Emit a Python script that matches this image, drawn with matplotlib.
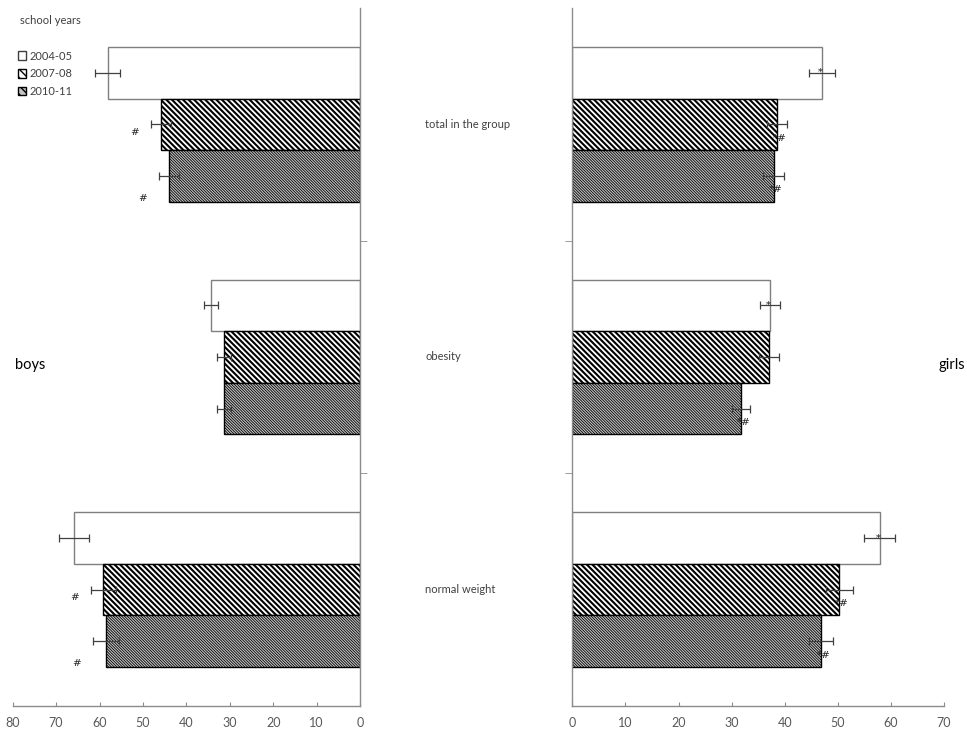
import matplotlib
matplotlib.use("Agg")
import matplotlib.pyplot as plt
import matplotlib.transforms as mtransforms
from matplotlib.patches import Patch
import numpy as np

# ---------------- data ----------------
categories = ["total in the group", "obesity", "normal weight"]   # top -> bottom
series = ["2004-05", "2007-08", "2010-11"]

boys_2004 = [58.1, 34.3, 65.9]
boys_2007 = [45.9, 31.3, 59.1]
boys_2010 = [43.9, 31.3, 58.5]
boys_err_2004 = [2.9, 1.7, 3.4]
boys_err_2007 = [2.3, 1.6, 2.9]
boys_err_2010 = [2.3, 1.6, 2.9]

girls_2004 = [47.0, 37.3, 57.9]
girls_2007 = [38.6, 37.1, 50.3]
girls_2010 = [37.9, 31.7, 46.8]
girls_err_2004 = [2.4, 1.9, 2.9]
girls_err_2007 = [1.9, 1.9, 2.5]
girls_err_2010 = [2.0, 1.7, 2.3]

# significance marks (category index, series index, text)
boys_marks = [(0, 1, "#"), (0, 2, "#"), (2, 1, "#"), (2, 2, "#")]
girls_marks = [(0, 0, "*"), (0, 1, "*#"), (0, 2, "*#"), (1, 0, "*"),
               (1, 2, "*#"), (2, 0, "*"), (2, 1, "*#"), (2, 2, "*#")]

left_ticks = [80, 70, 60, 50, 40, 30, 20, 10, 0]
right_ticks = [0, 10, 20, 30, 40, 50, 60, 70]

# ---------------- style ----------------
plt.rcParams['font.family'] = ['Lato', 'DejaVu Sans']
W, H = 967, 731
fig = plt.figure(figsize=(W / 100, H / 100), dpi=100)

def fx(px):
    return px / W

def fy(py):
    return 1 - py / H

ytop, ybot = 8, 706
axL = fig.add_axes([fx(12.7), fy(ybot), fx(360 - 12.7), (ybot - ytop) / H])
axR = fig.add_axes([fx(572.3), fy(ybot), fx(944 - 572.3), (ybot - ytop) / H])

ypos = np.array([2, 1, 0])
h = 0.222
offsets = [h, 0, -h]
faces = ["white", "white", "#c4c4c4"]
hatches = [None, "\\" * 6, "\\" * 12]
hatch_lw = [1.0, 1.5, 0.6]
edges = ["#7f7f7f", "black", "black"]
spine_c = "#8c8c8c"
err_c = "#404040"

def make_bar(ax, y, v, j):
    with plt.rc_context({'hatch.linewidth': hatch_lw[j]}):
        b = ax.barh(y, v, height=h, color=faces[j], edgecolor=edges[j],
                    hatch=hatches[j], linewidth=1.0, label=series[j], zorder=2)
    for p in b.patches:
        if hasattr(p, "set_hatch_linewidth"):
            p.set_hatch_linewidth(hatch_lw[j])
    return b

def draw(ax, vals, errs, marks, side):
    for j in range(3):
        make_bar(ax, ypos + offsets[j], vals[j], j)
        ax.errorbar(vals[j], ypos + offsets[j], xerr=errs[j], fmt="none",
                    ecolor=err_c, elinewidth=0.9, capsize=3, capthick=0.9,
                    zorder=3)
    for (i, j, t) in marks:
        v = vals[j][i]
        if side == "L":
            x = v + errs[j][i] + 3.8
            dy = -6 if j == 1 else -16
            ha = "center"
        else:
            x = v - 0.8
            dy = 0 if j == 0 else -10
            ha = "left"
        ax.annotate(t, (x, ypos[i] + offsets[j]), xytext=(0, dy),
                    textcoords="offset points", ha=ha, va="center",
                    fontsize=7.5, family=["DejaVu Serif"], color="#222222",
                    zorder=4)
    ax.set_ylim(-0.5, 2.5)
    ax.set_yticks([])
    ax.set_yticks([0.5, 1.5], minor=True)
    for s in ax.spines.values():
        s.set_color(spine_c)
        s.set_linewidth(1.0)
    ax.spines['top'].set_visible(False)
    ax.tick_params(axis='x', direction='in', length=3, color=spine_c,
                   labelsize=9, labelcolor="#595959", pad=8)
    ax.tick_params(axis='y', which='minor', direction='out', length=5,
                   color=spine_c)

draw(axL, [boys_2004, boys_2007, boys_2010],
     [boys_err_2004, boys_err_2007, boys_err_2010], boys_marks, "L")
axL.set_xlim(80, 0)
axL.set_xticks(left_ticks)
axL.spines['left'].set_visible(False)
axL.yaxis.set_ticks_position('right')

draw(axR, [girls_2004, girls_2007, girls_2010],
     [girls_err_2004, girls_err_2007, girls_err_2010], girls_marks, "R")
axR.set_xlim(0, 70)
axR.set_xticks(right_ticks)
axR.spines['right'].set_visible(False)

# category labels between the panels
trans = mtransforms.blended_transform_factory(fig.transFigure, axR.transData)
for c, y in zip(categories, ypos):
    fig.text(fx(425), y, c, transform=trans, ha="left", va="center",
             fontsize=8, color="#404040")

fig.text(fx(15), fy(365), "boys", ha="left", va="center", fontsize=10.5,
         color="black")
fig.text(fx(965), fy(365), "girls", ha="right", va="center", fontsize=10.5,
         color="black")

# legend
fig.text(fx(20), fy(20), "school years", ha="left", va="center", fontsize=8,
         color="#404040")
handles = []
for j in range(3):
    p = Patch(facecolor=faces[j], edgecolor=("#404040" if j == 0 else "black"),
              hatch=(None if hatches[j] is None else hatches[j][:4]),
              label=series[j])
    handles.append(p)
fig.legend(handles=handles, loc="upper left", bbox_to_anchor=(fx(12), fy(45)),
           frameon=False, fontsize=8, handlelength=0.8, handleheight=0.8,
           handletextpad=0.3, labelspacing=0.6, borderpad=0, labelcolor="#404040")

fig.savefig("out.png", dpi=100)
